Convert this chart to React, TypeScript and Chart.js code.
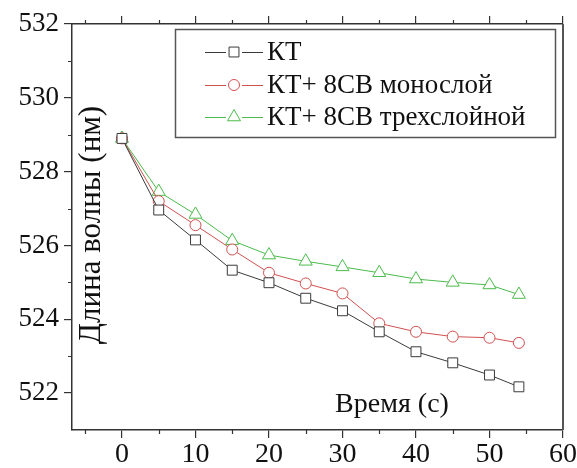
import React, { useEffect, useRef } from "react";
import { Chart, registerables } from "chart.js";
import { drawPoint } from "chart.js/helpers";

Chart.register(...registerables);

const times = [0, 5, 10, 15, 20, 25, 30, 35, 40, 45, 50, 54];
const ktValues = [528.9, 526.96, 526.15, 525.33, 524.99, 524.57, 524.23, 523.66, 523.12, 522.82, 522.49, 522.17];
const monoValues = [528.9, 527.2, 526.55, 525.89, 525.26, 524.97, 524.7, 523.89, 523.66, 523.53, 523.5, 523.36];
const triValues = [528.9, 527.46, 526.84, 526.13, 525.74, 525.57, 525.42, 525.26, 525.09, 525.0, 524.93, 524.67];

const seriesLabels = ["КТ", "КТ+ 8СВ монослой", "КТ+ 8СВ трехслойной"];
const xMajorTicks = [0, 10, 20, 30, 40, 50, 60];
const xMinorTicks = [-5, 5, 15, 25, 35, 45, 55];
const yMajorTicks = [522, 524, 526, 528, 530, 532];
const yMinorTicks = [523, 525, 527, 529, 531];
const xTitle = "Время (с)";
const yTitle = "Длина волны (нм)";

const FONT = "'Liberation Serif', 'Times New Roman', serif";
const AXIS = "#333333";

const extrasPlugin = {
  id: "extras",
  afterDraw(chart: any) {
    const { ctx, chartArea } = chart;
    const xs = chart.scales.x;
    const ys = chart.scales.y;
    ctx.save();
    // minor ticks
    ctx.strokeStyle = AXIS;
    ctx.lineWidth = 1.2;
    ctx.beginPath();
    xMinorTicks.forEach((v) => {
      const px = Math.round(xs.getPixelForValue(v)) + 0.5;
      ctx.moveTo(px, chartArea.bottom);
      ctx.lineTo(px, chartArea.bottom + 4);
      ctx.moveTo(px, chartArea.top);
      ctx.lineTo(px, chartArea.top - 4);
    });
    yMinorTicks.forEach((v) => {
      const py = Math.round(ys.getPixelForValue(v)) + 0.5;
      ctx.moveTo(chartArea.left, py);
      ctx.lineTo(chartArea.left - 4, py);
    });
    ctx.stroke();
    // right border
    ctx.strokeStyle = "#555555";
    ctx.lineWidth = 2;
    ctx.beginPath();
    ctx.moveTo(chartArea.right, chartArea.top);
    ctx.lineTo(chartArea.right, chartArea.bottom);
    ctx.stroke();

    // axis titles (inside plot)
    ctx.fillStyle = "#111111";
    ctx.font = `28px ${FONT}`;
    ctx.textAlign = "center";
    ctx.textBaseline = "middle";
    ctx.fillText(xTitle, 392, 405);
    ctx.save();
    ctx.translate(92, 225);
    ctx.rotate(-Math.PI / 2);
    ctx.font = `31px ${FONT}`;
    ctx.fillText(yTitle, 0, 0);
    ctx.restore();

    // legend box
    ctx.strokeStyle = "#555555";
    ctx.lineWidth = 1.5;
    ctx.strokeRect(175.5, 29.5, 380, 108);
    const rowsY = [52, 85, 117];
    chart.data.datasets.forEach((ds: any, i: number) => {
      const y = rowsY[i];
      ctx.strokeStyle = ds.borderColor;
      ctx.lineWidth = 1;
      ctx.beginPath();
      ctx.moveTo(205, y + 0.5);
      ctx.lineTo(226, y + 0.5);
      ctx.moveTo(242, y + 0.5);
      ctx.lineTo(263, y + 0.5);
      ctx.stroke();
      ctx.fillStyle = "#ffffff";
      drawPoint(ctx, { pointStyle: ds.pointStyle, radius: ds.pointRadius, rotation: 0, borderWidth: 1 }, 234, y);
      ctx.fillStyle = "#111111";
      ctx.font = `27px ${FONT}`;
      ctx.textAlign = "left";
      ctx.textBaseline = "middle";
      ctx.fillText(ds.label, 267, y + 1);
    });
    ctx.restore();
  },
};

export default function App() {
  const ref = useRef<HTMLCanvasElement>(null);
  useEffect(() => {
    document.body.style.margin = "0";
    const mk = (label: string, data: number[], color: string, style: string, r: number) => ({
      label,
      data: times.map((t, i) => ({ x: t, y: data[i] })),
      borderColor: color,
      backgroundColor: "#ffffff",
      pointBorderColor: color,
      pointBackgroundColor: "#ffffff",
      pointStyle: style,
      pointRadius: r,
      pointBorderWidth: 1,
      borderWidth: 1,
      tension: 0,
    });
    const chart = new Chart(ref.current!, {
      type: "line",
      data: {
        datasets: [
          mk(seriesLabels[0], ktValues, "#3a3a3a", "rect", 7),
          mk(seriesLabels[1], monoValues, "#d05050", "circle", 5.5),
          mk(seriesLabels[2], triValues, "#4cbb4c", "triangle", 7.5),
        ],
      },
      options: {
        animation: false,
        responsive: false,
        layout: { padding: { left: 0, right: 14, top: 0, bottom: 0 } },
        plugins: { legend: { display: false }, tooltip: { enabled: false } },
        scales: {
          x: {
            type: "linear",
            position: "bottom",
            min: -6.8,
            max: 60,
            afterBuildTicks: (s: any) => {
              s.ticks = xMajorTicks.map((v) => ({ value: v }));
            },
            afterFit: (s: any) => {
              s.height = 38;
            },
            ticks: { font: { family: FONT, size: 28 }, color: "#111111", padding: 0, maxRotation: 0, autoSkip: false },
            grid: { display: true, drawOnChartArea: false, drawTicks: true, tickLength: 8, color: AXIS, lineWidth: 1.2 },
            border: { display: true, color: AXIS, width: 1.5 },
          },
          x2: {
            type: "linear",
            position: "top",
            min: -6.8,
            max: 60,
            afterBuildTicks: (s: any) => {
              s.ticks = xMajorTicks.map((v) => ({ value: v }));
            },
            afterFit: (s: any) => {
              s.height = 24;
            },
            ticks: { display: false },
            grid: { display: true, drawOnChartArea: false, drawTicks: true, tickLength: 8, color: AXIS, lineWidth: 1.2 },
            border: { display: true, color: AXIS, width: 1.5 },
          },
          y: {
            type: "linear",
            min: 521,
            max: 532,
            afterBuildTicks: (s: any) => {
              s.ticks = yMajorTicks.map((v) => ({ value: v }));
            },
            afterFit: (s: any) => {
              s.width = 72;
            },
            ticks: { font: { family: FONT, size: 27 }, color: "#111111", padding: 5 },
            grid: { display: true, drawOnChartArea: false, drawTicks: true, tickLength: 8, color: AXIS, lineWidth: 1.2 },
            border: { display: true, color: AXIS, width: 1.5 },
          },
        },
      },
      plugins: [extrasPlugin],
    });
    return () => chart.destroy();
  }, []);
  return (
    <div style={{ position: "absolute", left: 0, top: 0, width: 577, height: 468 }}>
      <canvas ref={ref} width={577} height={468} />
    </div>
  );
}
